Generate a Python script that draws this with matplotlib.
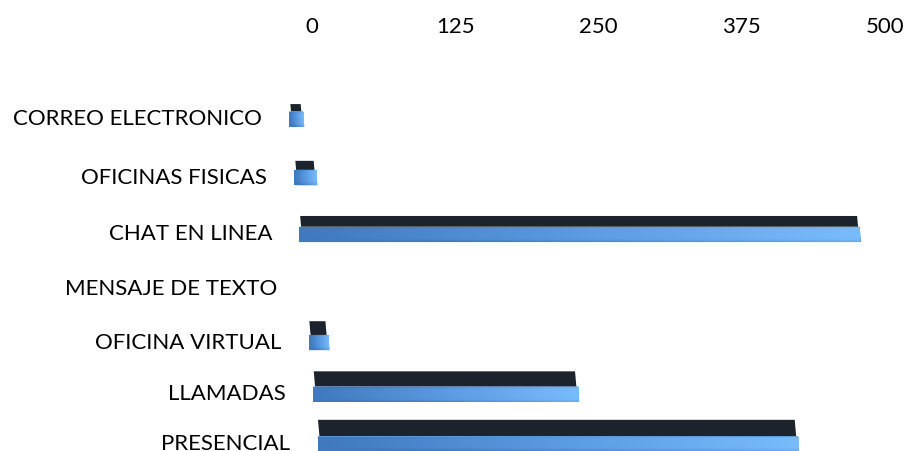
import numpy as np
import matplotlib.pyplot as plt
from matplotlib.transforms import Affine2D
from matplotlib.colors import LinearSegmentedColormap

categorias = ['CORREO ELECTRONICO', 'OFICINAS FISICAS', 'CHAT EN LINEA',
              'MENSAJE DE TEXTO', 'OFICINA VIRTUAL', 'LLAMADAS', 'PRESENCIAL']
valores = [12, 19, 489, 0, 17, 231, 419]
ticks = [0, 125, 250, 375, 500]

plt.rcParams['font.family'] = ['Lato', 'DejaVu Sans']

W, H = 909, 451
fig = plt.figure(figsize=(W / 100, H / 100), dpi=100)
ax = fig.add_axes([312 / W, 0, (885 - 312) / W, (H - 45) / H])


# filas cada vez mas juntas hacia abajo (perspectiva)
def f(v):
    return 59.5 * v - 0.9 * v ** 2


def finv(p):
    return (59.5 - np.sqrt(np.clip(59.5 ** 2 - 3.6 * p, 0, None))) / 1.8


ax.set_yscale('function', functions=(f, finv))
ax.set_xlim(0, 500)
ax.set_ylim(finv(451 - 119), finv(45 - 119))

# las filas de abajo se desplazan a la derecha
k = 0.0875
sesgo = Affine2D().translate(0, -80).skew(np.arctan(-k), 0).translate(0, 80)
trans = ax.transData + sesgo

y = np.arange(len(categorias))
alto_frente = 0.26 + 0.008 * y
alto_tapa = 0.12 + 0.035 * y

frente = ax.barh(y, valores, height=alto_frente, color='#5a9ae0', linewidth=0)
ancho_tapa = np.clip(np.array(valores) - 3, 0, None)
tapa = ax.barh(y - alto_frente / 2 - alto_tapa / 2, ancho_tapa, left=1.5,
               height=alto_tapa, color='#1c232d', linewidth=0)

cmap = LinearSegmentedColormap.from_list('azul', ['#4079bd', '#5b9be2', '#79bcfb'])
grad = np.linspace(0, 1, 256)[None, :] * np.ones((16, 1))
sombra = np.abs(np.linspace(-1, 1, 16))[:, None]
grad = np.clip(grad - 0.25 * sombra ** 6, 0, 1)

for p, t, v, yi, hf in zip(frente.patches, tapa.patches, valores, y, alto_frente):
    p.set_transform(trans)
    p.set_clip_on(False)
    t.set_transform(trans)
    t.set_clip_on(False)
    if v > 0:
        im = ax.imshow(grad, cmap=cmap, aspect='auto', interpolation='bilinear',
                       extent=[0, v, yi + hf / 2, yi - hf / 2],
                       transform=trans, zorder=2)
        im.set_clip_box(None)
        im.set_clip_path(p)

for cat, yi in zip(categorias, y):
    ax.text(0, yi, cat, ha='right', va='center', fontsize=16,
            clip_on=False, transform=trans + Affine2D().translate(-28, 0))

ax.set_xticks(ticks)
ax.set_xticklabels([str(t) for t in ticks])
ax.xaxis.tick_top()
ax.tick_params(axis='x', length=0, labelsize=16, pad=6)
ax.set_yticks([])
ax.yaxis.set_minor_locator(plt.NullLocator())
for s in ax.spines.values():
    s.set_visible(False)
ax.patch.set_visible(False)

fig.savefig('out.png', dpi=100)
